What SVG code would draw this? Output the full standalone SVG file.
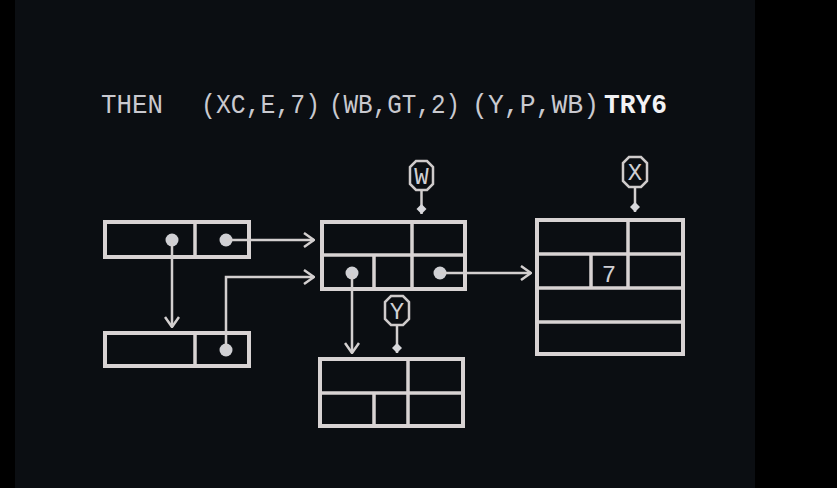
<svg xmlns="http://www.w3.org/2000/svg" width="837" height="488" viewBox="0 0 837 488">
<style>
.box{fill:none;stroke:#d8d3d3;stroke-width:4}
.ln{fill:none;stroke:#d8d3d3;stroke-width:3.5}
.con{fill:none;stroke:#d3cfcf;stroke-width:2.5}
.dot{fill:#d0d0d4}
.t{font-family:"Liberation Mono","DejaVu Sans Mono",monospace;font-size:28px;fill:#c9c9cf}
.tb{font-family:"Liberation Mono","DejaVu Sans Mono",monospace;font-size:28px;font-weight:bold;fill:#f2f2f4}
.lab{font-family:"Liberation Mono","DejaVu Sans Mono",monospace;font-size:24px;fill:#d0d0d4;text-anchor:middle}
.oct{fill:none;stroke:#cfcbcb;stroke-width:2.5}
</style>
<defs>
<marker id="arr" viewBox="0 0 12 16" refX="11" refY="8" markerWidth="12" markerHeight="16" markerUnits="userSpaceOnUse" orient="auto">
<path d="M1,1 L11,8 L1,15" fill="none" stroke="#d3cfcf" stroke-width="2.5"/>
</marker>
<marker id="dia" viewBox="0 0 12 12" refX="6" refY="11" markerWidth="12" markerHeight="12" markerUnits="userSpaceOnUse" orient="0">
<path d="M6,1 L11,6 L6,11 L1,6 Z" fill="#d8d8dc"/>
</marker>
</defs>
<rect x="0" y="0" width="837" height="488" fill="#000"/>
<rect x="15" y="0" width="740" height="488" fill="#0b0e12"/>

<g id="title">
<text class="t" x="101" y="113" textLength="62" lengthAdjust="spacingAndGlyphs">THEN</text>
<text class="t" x="201" y="113" textLength="119" lengthAdjust="spacingAndGlyphs">(XC,E,7)</text>
<text class="t" x="329" y="113" textLength="131" lengthAdjust="spacingAndGlyphs">(WB,GT,2)</text>
<text class="t" x="472" y="113" textLength="127" lengthAdjust="spacingAndGlyphs">(Y,P,WB)</text>
<text class="tb" x="604" y="113" textLength="63" lengthAdjust="spacingAndGlyphs">TRY6</text>
</g>

<g id="nodeA">
<rect class="box" x="105" y="222" width="144" height="35"/>
<line class="ln" x1="195" y1="222" x2="195" y2="257"/>
<circle class="dot" cx="172" cy="240" r="6.5"/>
<circle class="dot" cx="226" cy="240" r="6.5"/>
</g>

<g id="nodeB">
<rect class="box" x="105" y="333" width="144" height="33"/>
<line class="ln" x1="195" y1="333" x2="195" y2="366"/>
<circle class="dot" cx="226" cy="350" r="6.5"/>
</g>

<g id="nodeW">
<rect class="box" x="322" y="222" width="143" height="67"/>
<line class="ln" x1="322" y1="255" x2="465" y2="255"/>
<line class="ln" x1="412" y1="222" x2="412" y2="289"/>
<line class="ln" x1="374" y1="255" x2="374" y2="289"/>
<circle class="dot" cx="352" cy="273" r="6.5"/>
<circle class="dot" cx="440" cy="273" r="6.5"/>
</g>

<g id="nodeYbox">
<rect class="box" x="320" y="359" width="143" height="67"/>
<line class="ln" x1="320" y1="393" x2="463" y2="393"/>
<line class="ln" x1="408" y1="359" x2="408" y2="426"/>
<line class="ln" x1="374" y1="393" x2="374" y2="426"/>
</g>

<g id="nodeX">
<rect class="box" x="537" y="220" width="146" height="134"/>
<line class="ln" x1="537" y1="254" x2="683" y2="254"/>
<line class="ln" x1="537" y1="288" x2="683" y2="288"/>
<line class="ln" x1="537" y1="322" x2="683" y2="322"/>
<line class="ln" x1="628" y1="220" x2="628" y2="288"/>
<line class="ln" x1="591" y1="254" x2="591" y2="288"/>
<text class="lab" x="609" y="282" font-size="28">7</text>
</g>

<g id="labelW">
<polygon class="oct" points="416,161 427,161 433,167 433,184 427,190 416,190 410,184 410,167"/>
<text class="lab" x="421.5" y="184">W</text>
</g>
<g id="labelY">
<polygon class="oct" points="391,296 403,296 409,302 409,319 403,325 391,325 385,319 385,302"/>
<text class="lab" x="397" y="319">Y</text>
</g>
<g id="labelX">
<polygon class="oct" points="629,157 641,157 647,163 647,181 641,187 629,187 623,181 623,163"/>
<text class="lab" x="635" y="180">X</text>
</g>

<g id="connectors">
<path class="con" d="M226,240 H314" marker-end="url(#arr)"/>
<path class="con" d="M172,240 V327" marker-end="url(#arr)"/>
<path class="con" d="M226,350 V277 H314" marker-end="url(#arr)"/>
<path class="con" d="M352,273 V353" marker-end="url(#arr)"/>
<path class="con" d="M440,273 H531" marker-end="url(#arr)"/>
<path class="con" d="M421.5,190 V214" marker-end="url(#dia)"/>
<path class="con" d="M397,325 V353" marker-end="url(#dia)"/>
<path class="con" d="M635,187 V212" marker-end="url(#dia)"/>
</g>
</svg>
